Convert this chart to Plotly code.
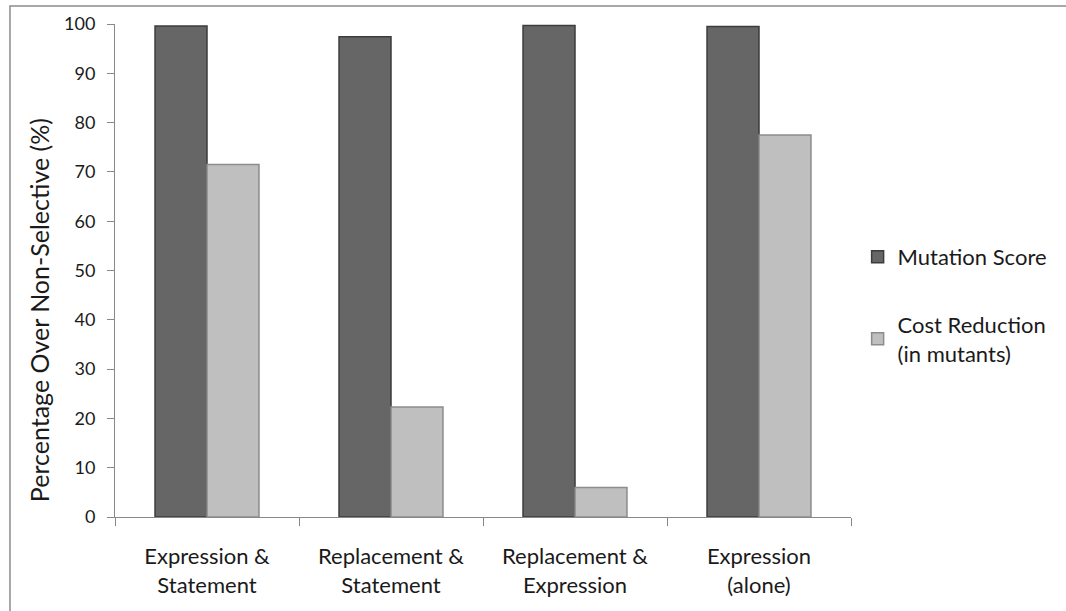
import plotly.graph_objects as go

categories = ["Expression &<br>Statement", "Replacement &<br>Statement",
              "Replacement &<br>Expression", "Expression<br>(alone)"]
mutation_score = [99.6, 97.4, 99.7, 99.5]
cost_reduction = [71.5, 22.3, 6.0, 77.5]
y_ticks = list(range(0, 101, 10))

FONT = "Lato, 'Open Sans', sans-serif"
TEXT = "#1a1a1a"
AXIS = "#888888"

fig = go.Figure()
fig.add_trace(go.Bar(
    x=categories, y=mutation_score, name="Mutation Score",
    legendgroup="a",
    marker=dict(color="#666666", line=dict(color="#3c3c3c", width=1.5)),
))
fig.add_trace(go.Bar(
    x=categories, y=cost_reduction, name="Cost Reduction<br>(in mutants)",
    legendgroup="b",
    marker=dict(color="#bfbfbf", line=dict(color="#8c8c8c", width=1.5)),
))

fig.update_layout(
    width=1066, height=611,
    margin=dict(l=115, r=215, t=22, b=94),
    paper_bgcolor="white", plot_bgcolor="white",
    barmode="group", bargap=0.435, bargroupgap=0,
    font=dict(family=FONT, color=TEXT),
    legend=dict(
        x=1.009, xanchor="left", y=0.43, yanchor="middle",
        font=dict(size=22, family=FONT, color=TEXT),
        tracegroupgap=36, traceorder="grouped",
        bgcolor="rgba(0,0,0,0)",
    ),
    showlegend=True,
)
fig.update_xaxes(
    type="category", showline=True, linecolor=AXIS, linewidth=1,
    ticks="outside", tickson="boundaries", ticklen=8, tickcolor=AXIS,
    ticklabelstandoff=20,
    tickfont=dict(size=22, family=FONT, color=TEXT),
    showgrid=False, zeroline=False,
)
fig.update_yaxes(
    range=[0, 100], tickvals=y_ticks, showline=True, linecolor=AXIS,
    linewidth=1, ticks="outside", ticklen=7, tickcolor=AXIS,
    ticklabelstandoff=8,
    tickfont=dict(size=18, family=FONT, color=TEXT),
    showgrid=False, zeroline=False,
)

# y-axis title placed as a rotated annotation
fig.add_annotation(
    text="Percentage Over Non-Selective (%)", textangle=-90,
    xref="paper", yref="paper", x=-0.103, y=0.42,
    xanchor="center", yanchor="middle", showarrow=False,
    font=dict(size=25, family=FONT, color=TEXT),
)

# chart-area frame
fig.add_shape(
    type="rect", xref="paper", yref="paper",
    x0=-0.1427, y0=-0.2, x1=1.3, y1=1.0364,
    line=dict(color="#8c8c8c", width=1.5), layer="below",
)

fig.write_html("out.html")
